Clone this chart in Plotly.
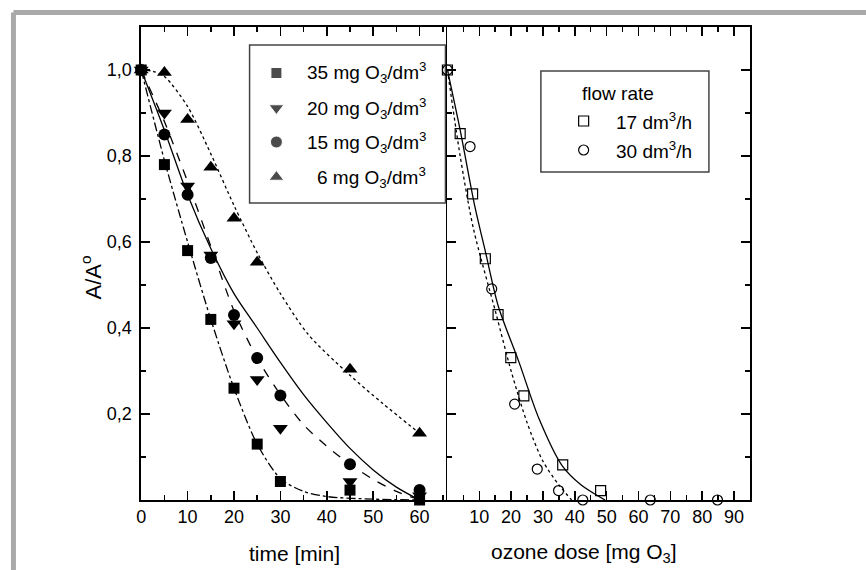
import plotly.graph_objects as go

W, H = 866, 570

# ---------------- data ----------------
time_min = [0, 5, 10, 15, 20, 25, 30, 45, 60]
a_35 = [1.0, 0.78, 0.58, 0.42, 0.26, 0.13, 0.043, 0.023, 0.0]
a_20 = [1.0, 0.90, 0.73, 0.57, 0.41, 0.28, 0.167, 0.043, 0.01]
a_15 = [1.0, 0.85, 0.71, 0.563, 0.43, 0.33, 0.243, 0.083, 0.023]
time_6 = [0, 5, 10, 15, 20, 25, 45, 60]
a_6 = [1.0, 0.994, 0.885, 0.774, 0.655, 0.553, 0.304, 0.155]

# fitted curves
fit35_x = [0, 5, 10, 15, 20, 25, 30, 35, 40, 50, 60]
fit35_y = [1.0, 0.79, 0.60, 0.42, 0.26, 0.13, 0.05, 0.02, 0.008, 0.002, 0.0]
fit20_x = [0, 5, 10, 15, 20, 25, 30, 35, 40, 45, 50, 55, 60]
fit20_y = [1.0, 0.88, 0.74, 0.59, 0.44, 0.33, 0.245, 0.175, 0.125, 0.083, 0.048, 0.02, 0.0]
fit15_x = [0, 5, 10, 15, 20, 25, 30, 35, 40, 45, 50, 55, 60]
fit15_y = [1.0, 0.86, 0.71, 0.585, 0.48, 0.40, 0.32, 0.245, 0.18, 0.12, 0.07, 0.03, 0.0]
fit6_x = [0, 2.5, 5, 10, 15, 20, 25, 30, 36, 45, 52, 60]
fit6_y = [1.0, 0.997, 0.985, 0.915, 0.805, 0.685, 0.575, 0.48, 0.385, 0.29, 0.225, 0.155]

dose_17 = [0, 4.0, 7.9, 11.9, 15.9, 19.9, 24.0, 36.2, 48.1]
a_17 = [1.0, 0.852, 0.712, 0.561, 0.431, 0.331, 0.242, 0.0815, 0.0217]
dose_30 = [0, 7.1, 13.9, 21.1, 28.2, 34.9, 42.5, 63.7, 84.8]
a_30 = [1.0, 0.822, 0.491, 0.223, 0.072, 0.022, 0.0, 0.0, 0.0]

fit17_x = [0, 4, 8.4, 12, 16, 22.5, 28.7, 36, 42, 49.5]
fit17_y = [1.0, 0.86, 0.69, 0.575, 0.45, 0.32, 0.19, 0.08, 0.035, 0.0]
fit30_x = [0, 4, 8.2, 15.2, 20, 25, 30, 35, 39]
fit30_y = [1.0, 0.80, 0.63, 0.435, 0.30, 0.18, 0.09, 0.035, 0.0]

y_ticks = [0.2, 0.4, 0.6, 0.8, 1.0]
y_ticktext = ["0,2", "0,4", "0,6", "0,8", "1,0"]
x1_ticks = [0, 10, 20, 30, 40, 50, 60]
x2_ticks = [10, 20, 30, 40, 50, 60, 70, 80, 90]

legend1_labels = ["35 mg O<sub>3</sub>/dm<sup>3</sup>", "20 mg O<sub>3</sub>/dm<sup>3</sup>",
                  "15 mg O<sub>3</sub>/dm<sup>3</sup>", "6 mg O<sub>3</sub>/dm<sup>3</sup>"]
legend2_title = "flow rate"
legend2_labels = ["17 dm<sup>3</sup>/h", "30 dm<sup>3</sup>/h"]

# ---------------- layout geometry (pixels) ----------------
L1, R1, R2 = 137, 445, 749.3
TOP, BOT = 27, 500
FONT = "Liberation Sans, Arial, Helvetica, sans-serif"


def px(x):
    return x / W


def py(y):
    return 1 - y / H


fig = go.Figure()

LW = 1.3
# left plot curves
fig.add_trace(go.Scatter(x=fit35_x, y=fit35_y, mode="lines", line=dict(color="black", width=LW, dash="dashdot", shape="spline", smoothing=0.8), xaxis="x", yaxis="y", showlegend=False))
fig.add_trace(go.Scatter(x=fit20_x, y=fit20_y, mode="lines", line=dict(color="black", width=LW, dash="dash", shape="spline", smoothing=0.8), xaxis="x", yaxis="y", showlegend=False))
fig.add_trace(go.Scatter(x=fit15_x, y=fit15_y, mode="lines", line=dict(color="black", width=LW, shape="spline", smoothing=0.8), xaxis="x", yaxis="y", showlegend=False))
fig.add_trace(go.Scatter(x=fit6_x, y=fit6_y, mode="lines", line=dict(color="black", width=LW, dash="dot", shape="spline", smoothing=0.8), xaxis="x", yaxis="y", showlegend=False))

fig.add_trace(go.Scatter(x=time_min, y=a_35, mode="markers", marker=dict(symbol="square", size=11, color="black"), cliponaxis=False, xaxis="x", yaxis="y", showlegend=False))
fig.add_trace(go.Scatter(x=time_min, y=a_20, mode="markers", marker=dict(symbol="triangle-down", size=13, color="black"), cliponaxis=False, xaxis="x", yaxis="y", showlegend=False))
fig.add_trace(go.Scatter(x=time_min, y=a_15, mode="markers", marker=dict(symbol="circle", size=12, color="black"), cliponaxis=False, xaxis="x", yaxis="y", showlegend=False))
fig.add_trace(go.Scatter(x=time_6, y=a_6, mode="markers", marker=dict(symbol="triangle-up", size=13, color="black"), cliponaxis=False, xaxis="x", yaxis="y", showlegend=False))

# right plot
fig.add_trace(go.Scatter(x=fit17_x, y=fit17_y, mode="lines", line=dict(color="black", width=LW, shape="spline", smoothing=0.8), xaxis="x2", yaxis="y2", showlegend=False))
fig.add_trace(go.Scatter(x=fit30_x, y=fit30_y, mode="lines", line=dict(color="black", width=LW, dash="dot", shape="spline", smoothing=0.8), xaxis="x2", yaxis="y2", showlegend=False))
fig.add_trace(go.Scatter(x=dose_17, y=a_17, mode="markers", marker=dict(symbol="square-open", size=10, color="black", line=dict(width=1.2)), cliponaxis=False, xaxis="x2", yaxis="y2", showlegend=False))
fig.add_trace(go.Scatter(x=dose_30, y=a_30, mode="markers", marker=dict(symbol="circle-open", size=10, color="black", line=dict(width=1.2)), cliponaxis=False, xaxis="x2", yaxis="y2", showlegend=False))

# legend markers drawn on a pixel overlay axis
leg1_x = [273, 273, 273, 273]
leg1_y = [73, 108, 142, 177]
leg1_sym = ["square", "triangle-down", "circle", "triangle-up"]
leg1_size = [11, 13, 12, 13]
fig.add_trace(go.Scatter(x=leg1_x, y=leg1_y, mode="markers", marker=dict(symbol=leg1_sym, size=leg1_size, color="black"), xaxis="x3", yaxis="y3", showlegend=False))
leg2_x = [582, 582]
leg2_y = [121, 150]
fig.add_trace(go.Scatter(x=leg2_x, y=leg2_y, mode="markers", marker=dict(symbol=["square-open", "circle-open"], size=10, color="black", line=dict(width=1.2)), xaxis="x3", yaxis="y3", showlegend=False))

axcommon = dict(showline=True, linecolor="black", linewidth=1.8, ticks="inside", tickcolor="black",
                tickwidth=1.5, ticklen=9, showgrid=False, zeroline=False,
                tickfont=dict(family=FONT, size=18, color="black"))

fig.update_layout(
    width=W, height=H, margin=dict(l=0, r=0, t=0, b=0),
    paper_bgcolor="white", plot_bgcolor="rgba(0,0,0,0)",
    font=dict(family=FONT, color="black"),
    xaxis=dict(domain=[px(L1), px(R1)], range=[0, 66], anchor="y", tickvals=x1_ticks, mirror="ticks",
               minor=dict(dtick=5, tick0=0, ticks="inside", ticklen=5, tickcolor="black", tickwidth=1.5),
               **axcommon),
    yaxis=dict(domain=[py(BOT), py(TOP)], range=[0, 1.1], anchor="x", tickvals=y_ticks, ticktext=y_ticktext,
               mirror=False, ticklabelstandoff=4,
               minor=dict(dtick=0.1, tick0=0, ticks="inside", ticklen=5, tickcolor="black", tickwidth=1.5),
               **axcommon),
    xaxis2=dict(domain=[px(R1), px(R2)], range=[0, 95], anchor="y2", tickvals=x2_ticks, mirror="ticks",
                minor=dict(dtick=5, tick0=0, ticks="inside", ticklen=5, tickcolor="black", tickwidth=1.5),
                **axcommon),
    yaxis2=dict(domain=[py(BOT), py(TOP)], range=[0, 1.1], anchor="x2", tickvals=[0] + y_ticks,
                showticklabels=False, mirror="ticks",
                minor=dict(dtick=0.1, tick0=0, ticks="inside", ticklen=5, tickcolor="black", tickwidth=1.5),
                **axcommon),
    xaxis3=dict(domain=[0, 1], range=[0, W], anchor="y3", visible=False, fixedrange=True),
    yaxis3=dict(domain=[0, 1], range=[H, 0], anchor="x3", visible=False, fixedrange=True),
)

shapes = [
    # grey page frame
    dict(type="line", xref="paper", yref="paper", x0=px(8.5), x1=px(W + 5), y0=py(12.5), y1=py(12.5), line=dict(color="#a9a9a9", width=5)),
    dict(type="line", xref="paper", yref="paper", x0=px(8.5), x1=px(8.5), y0=py(12.5), y1=py(H + 5), line=dict(color="#a9a9a9", width=5)),
    # legend boxes
    dict(type="rect", xref="paper", yref="paper", x0=px(246), x1=px(443), y0=py(45), y1=py(203), line=dict(color="#444", width=1.5), fillcolor="white", layer="below"),
    dict(type="rect", xref="paper", yref="paper", x0=px(539), x1=px(708), y0=py(71), y1=py(172), line=dict(color="#444", width=1.5), fillcolor="white", layer="below"),
]
fig.update_layout(shapes=shapes)

ann = []
for lab, yy in zip(legend1_labels, leg1_y):
    ann.append(dict(text=lab, x=px(425), y=py(yy), xref="paper", yref="paper", xanchor="right", yanchor="middle",
                    showarrow=False, font=dict(family=FONT, size=19, color="black")))
ann.append(dict(text=legend2_title, x=px(578), y=py(93), xref="paper", yref="paper", xanchor="left", yanchor="middle",
                showarrow=False, font=dict(family=FONT, size=19, color="black")))
for lab, yy in zip(legend2_labels, leg2_y):
    ann.append(dict(text=lab, x=px(613), y=py(yy), xref="paper", yref="paper", xanchor="left", yanchor="middle",
                    showarrow=False, font=dict(family=FONT, size=19, color="black")))
# axis titles
ann.append(dict(text="time [min]", x=px(291), y=py(553), xref="paper", yref="paper", xanchor="center", yanchor="middle",
                showarrow=False, font=dict(family=FONT, size=21, color="black")))
ann.append(dict(text="ozone dose [mg O<sub>3</sub>]", x=px(582), y=py(553), xref="paper", yref="paper", xanchor="center", yanchor="middle",
                showarrow=False, font=dict(family=FONT, size=21, color="black")))
ann.append(dict(text="A/A<sup>o</sup>", x=px(87), y=py(277), xref="paper", yref="paper", xanchor="center", yanchor="middle",
                textangle=-90, showarrow=False, font=dict(family=FONT, size=22, color="black")))
fig.update_layout(annotations=ann)

fig.write_html("out.html", config={"displayModeBar": False, "staticPlot": True},
               post_script="document.body.style.margin='0';document.body.style.overflow='hidden';")
